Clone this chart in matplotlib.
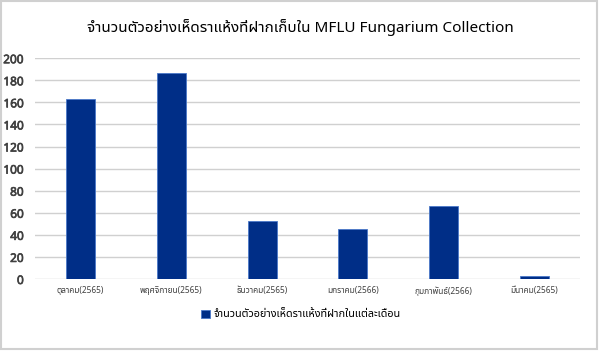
import matplotlib
matplotlib.use("Agg")
import matplotlib.pyplot as plt
from matplotlib.patches import Rectangle
import matplotlib.patheffects as pe

categories = ["ตุลาคม(2565)", "พฤศจิกายน(2565)", "ธันวาคม(2565)",
              "มกราคม(2566)", "กุมภาพันธ์(2566)", "มีนาคม(2565)"]
values = [163, 187, 53, 45, 66, 3]
yticks = [0, 20, 40, 60, 80, 100, 120, 140, 160, 180, 200]
title = "จำนวนตัวอย่างเห็ดราแห้งที่ฝากเก็บใน MFLU Fungarium Collection"
series_name = "จำนวนตัวอย่างเห็ดราแห้งที่ฝากในแต่ละเดือน"

FONT = ["Noto Sans Thai UI", "Noto Sans", "DejaVu Sans"]
plt.rcParams["font.family"] = FONT


def bold(w, c):
    return [pe.withStroke(linewidth=w, foreground=c)]


fig = plt.figure(figsize=(6, 3.51), dpi=100)
fig.patches.append(Rectangle((0.002, 0.006), 0.993, 0.99, transform=fig.transFigure,
                             fill=False, edgecolor="#d0d0d0", linewidth=1.5))

ax = fig.add_axes([0.0583, 0.2051, 0.9083, 0.629])
x = range(len(categories))
ax.bar(x, values, width=0.32, color="#002E87", edgecolor="#4a78c8", linewidth=0.6,
       label=series_name, zorder=3)
ax.set_xlim(-0.5, len(categories) - 0.5)
ax.set_ylim(0, 200)
ax.set_yticks(yticks)
ax.set_yticklabels([str(v) for v in yticks], fontsize=8.5, color="#404040")
for t in ax.get_yticklabels():
    t.set_path_effects(bold(0.5, "#404040"))
ax.set_xticks(list(x))
ax.set_xticklabels(categories, fontsize=6, color="#404040")
ax.tick_params(axis="both", length=0)
ax.tick_params(axis="y", pad=8)
ax.tick_params(axis="x", pad=5)
ax.grid(axis="y", color="#d0d0d0", linewidth=1.0, zorder=0)
for s in ax.spines.values():
    s.set_visible(False)

fig.text(0.5, 0.923, title, ha="center", va="center", fontsize=11, color="#000000")

leg = fig.legend(loc="center", bbox_to_anchor=(0.502, 0.103), frameon=False,
                 handlelength=0.75, handleheight=0.75, handletextpad=0.4,
                 prop={"family": FONT, "size": 7.8}, labelcolor="#000000")

fig.savefig("out.png", dpi=100)
